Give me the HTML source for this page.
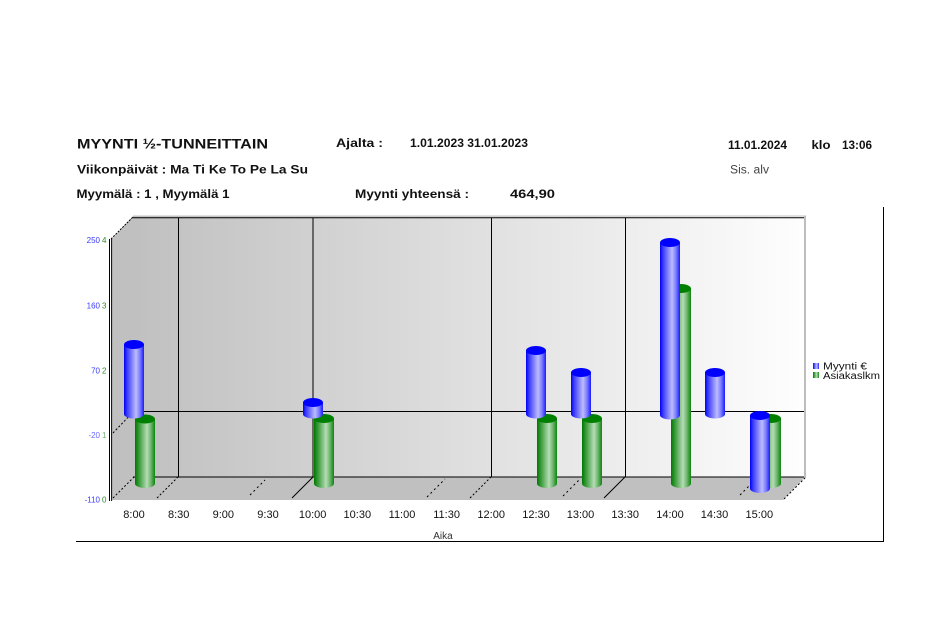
<!DOCTYPE html>
<html>
<head>
<meta charset="utf-8">
<style>
  html, body { margin:0; padding:0; background:#fff; }
  body { width:952px; height:632px; overflow:hidden; }
  svg { display:block; }
  .hb { font-family:"Liberation Sans", Arial, sans-serif; font-weight:bold; fill:#111; }
  .ax { font-family:"Liberation Sans", Arial, sans-serif; font-size:11px; fill:#111; }
</style>
</head>
<body>
<svg width="952" height="632" viewBox="0 0 952 632" xmlns="http://www.w3.org/2000/svg">
  <defs>
    <linearGradient id="wall" x1="0" y1="0" x2="1" y2="0">
      <stop offset="0" stop-color="#c0c0c0"/>
      <stop offset="1" stop-color="#fefefe"/>
    </linearGradient>
    <linearGradient id="gb" x1="0" y1="0" x2="1" y2="0">
      <stop offset="0" stop-color="#0000f0"/>
      <stop offset="0.15" stop-color="#3a3aff"/>
      <stop offset="0.6" stop-color="#bcbcff"/>
      <stop offset="0.8" stop-color="#7c7cff"/>
      <stop offset="1" stop-color="#1a1aff"/>
    </linearGradient>
    <linearGradient id="gg" x1="0" y1="0" x2="1" y2="0">
      <stop offset="0" stop-color="#007800"/>
      <stop offset="0.15" stop-color="#2a922a"/>
      <stop offset="0.6" stop-color="#b6dcb6"/>
      <stop offset="0.8" stop-color="#6cb46c"/>
      <stop offset="1" stop-color="#0c860c"/>
    </linearGradient>
  </defs>

  <rect x="0" y="0" width="952" height="632" fill="#fff"/>

  <!-- Header -->
  <text class="hb" x="77" y="148.3" font-size="14" textLength="191" lengthAdjust="spacingAndGlyphs">MYYNTI ½-TUNNEITTAIN</text>
  <text class="hb" x="336" y="147" font-size="11.5" textLength="47" lengthAdjust="spacingAndGlyphs">Ajalta :</text>
  <text class="hb" x="410" y="147" font-size="11.5" textLength="118" lengthAdjust="spacingAndGlyphs">1.01.2023  31.01.2023</text>
  <text class="hb" x="728" y="149" font-size="11.5" textLength="59" lengthAdjust="spacingAndGlyphs">11.01.2024</text>
  <text class="hb" x="811.5" y="149" font-size="11.5" textLength="19" lengthAdjust="spacingAndGlyphs">klo</text>
  <text class="hb" x="842" y="149" font-size="11.5" textLength="30" lengthAdjust="spacingAndGlyphs">13:06</text>
  <text class="hb" x="77" y="173.5" font-size="11.5" textLength="231" lengthAdjust="spacingAndGlyphs">Viikonpäivät : Ma Ti Ke To Pe La Su</text>
  <text x="730" y="173.5" font-family="Liberation Sans, Arial, sans-serif" font-size="11.5" fill="#444" textLength="39" lengthAdjust="spacingAndGlyphs">Sis. alv</text>
  <text class="hb" x="76.5" y="197.8" font-size="11.5" textLength="153" lengthAdjust="spacingAndGlyphs">Myymälä : 1 , Myymälä 1</text>
  <text class="hb" x="355" y="197.8" font-size="11.5" textLength="114" lengthAdjust="spacingAndGlyphs">Myynti yhteensä :</text>
  <text class="hb" x="510" y="197.8" font-size="11.5" textLength="45" lengthAdjust="spacingAndGlyphs">464,90</text>

  <!-- Frame -->
  <line x1="883.5" y1="207" x2="883.5" y2="542" stroke="#000" stroke-width="1"/>
  <line x1="76" y1="541.5" x2="884" y2="541.5" stroke="#000" stroke-width="1"/>

  <!-- Back wall -->
  <rect x="133" y="216" width="672" height="261" fill="url(#wall)"/>
  <!-- Side wall -->
  <polygon points="112,239 133,216 133,477 112,500" fill="#c0c0c0"/>
  <!-- Floor -->
  <polygon points="112,500 783,500 805,477 133,477" fill="#c0c0c0"/>

  <!-- wall borders -->
  <line x1="133" y1="216" x2="806" y2="216" stroke="#c0c0c0" stroke-width="1"/>
  <line x1="133" y1="217.8" x2="804" y2="217.8" stroke="#000" stroke-width="1"/>
  <line x1="805" y1="216" x2="805" y2="478" stroke="#bdbdbd" stroke-width="2"/>
  <line x1="111" y1="239" x2="133" y2="217" stroke="#000" stroke-width="1" stroke-dasharray="2,1.2"/>

  <!-- Gridlines back wall -->
  <line x1="133" y1="411.5" x2="804" y2="411.5" stroke="#000" stroke-width="1"/>
  <line x1="133" y1="477" x2="804" y2="477" stroke="#000" stroke-width="1"/>
  <line x1="178.5" y1="218" x2="178.5" y2="477" stroke="#000" stroke-width="1"/>
  <line x1="313" y1="218" x2="313" y2="477" stroke="#000" stroke-width="1"/>
  <line x1="491.5" y1="218" x2="491.5" y2="477" stroke="#000" stroke-width="1"/>
  <line x1="625.5" y1="218" x2="625.5" y2="477" stroke="#000" stroke-width="1"/>

  <!-- Side wall diagonal -->
  <line x1="113" y1="433" x2="133" y2="412" stroke="#000" stroke-width="1" stroke-dasharray="2,2"/>
  <!-- Floor diagonals -->
  <g stroke="#000" stroke-width="1">
    <line x1="113" y1="498" x2="134" y2="477" stroke-dasharray="2,2"/>
    <line x1="157" y1="498" x2="178" y2="477" stroke-dasharray="2,2"/>
    <line x1="250" y1="495" x2="265" y2="480" stroke-dasharray="2,3"/>
    <line x1="292" y1="498" x2="313" y2="477"/>
    <line x1="427" y1="497" x2="445" y2="479" stroke-dasharray="2,3"/>
    <line x1="470" y1="498" x2="491" y2="477" stroke-dasharray="2,2"/>
    <line x1="563" y1="496" x2="580" y2="479" stroke-dasharray="2,3"/>
    <line x1="604" y1="498" x2="625" y2="477"/>
    <line x1="740" y1="495" x2="755" y2="480" stroke-dasharray="2,3"/>
    <line x1="784" y1="499" x2="805" y2="478" stroke-dasharray="2,2"/>
  </g>

  <!-- Left axis double line -->
  <line x1="109.5" y1="239" x2="109.5" y2="501" stroke="#000" stroke-width="1"/>
  <line x1="111.6" y1="239" x2="111.6" y2="501" stroke="#000" stroke-width="1"/>

  <!-- Left axis labels -->
  <g font-family="Liberation Sans, Arial, sans-serif" font-size="8">
    <text x="100" y="243" text-anchor="end" fill="#3a3aff">250</text>
    <text x="102" y="243" fill="#2a8a2a">4</text>
    <text x="100" y="308.5" text-anchor="end" fill="#3a3aff">160</text>
    <text x="102" y="308.5" fill="#2a8a2a">3</text>
    <text x="100" y="373.5" text-anchor="end" fill="#3a3aff">70</text>
    <text x="102" y="373.5" fill="#2a8a2a">2</text>
    <text x="100" y="438" text-anchor="end" fill="#6a6aff">-20</text>
    <text x="102" y="438" fill="#7ab07a">1</text>
    <text x="100" y="502.5" text-anchor="end" fill="#3a3aff">-110</text>
    <text x="102" y="502.5" fill="#2a8a2a">0</text>
  </g>

  <!-- Green cylinders -->
  <g>
    <!-- 8:00 -->
    <path d="M135 419 L135 483.5 A10 4.5 0 0 0 155 483.5 L155 419 Z" fill="url(#gg)"/>
    <ellipse cx="145" cy="419" rx="10" ry="4.5" fill="#008000"/>
    <!-- 10:00 -->
    <path d="M314 418.5 L314 483.5 A10 4.5 0 0 0 334 483.5 L334 418.5 Z" fill="url(#gg)"/>
    <ellipse cx="324" cy="418.5" rx="10" ry="4.5" fill="#008000"/>
    <!-- 12:30 -->
    <path d="M537 418.5 L537 483.5 A10 4.5 0 0 0 557 483.5 L557 418.5 Z" fill="url(#gg)"/>
    <ellipse cx="547" cy="418.5" rx="10" ry="4.5" fill="#008000"/>
    <!-- 13:00 -->
    <path d="M582 418.5 L582 483.5 A10 4.5 0 0 0 602 483.5 L602 418.5 Z" fill="url(#gg)"/>
    <ellipse cx="592" cy="418.5" rx="10" ry="4.5" fill="#008000"/>
    <!-- 14:00 -->
    <path d="M671 288.5 L671 483.5 A10 4.5 0 0 0 691 483.5 L691 288.5 Z" fill="url(#gg)"/>
    <ellipse cx="681" cy="288.5" rx="10" ry="4.5" fill="#008000"/>
    <!-- 15:00 -->
    <path d="M761 418.5 L761 483.5 A10 4.5 0 0 0 781 483.5 L781 418.5 Z" fill="url(#gg)"/>
    <ellipse cx="771" cy="418.5" rx="10" ry="4.5" fill="#008000"/>
  </g>

  <!-- Blue cylinders -->
  <g>
    <!-- 8:00 -->
    <path d="M124 344.5 L124 414 A10 4.5 0 0 0 144 414 L144 344.5 Z" fill="url(#gb)"/>
    <ellipse cx="134" cy="344.5" rx="10" ry="4.5" fill="#0000ff"/>
    <!-- 10:00 -->
    <path d="M303 402.5 L303 414 A10 4.5 0 0 0 323 414 L323 402.5 Z" fill="url(#gb)"/>
    <ellipse cx="313" cy="402.5" rx="10" ry="4.5" fill="#0000ff"/>
    <!-- 12:30 -->
    <path d="M526 350.5 L526 414 A10 4.5 0 0 0 546 414 L546 350.5 Z" fill="url(#gb)"/>
    <ellipse cx="536" cy="350.5" rx="10" ry="4.5" fill="#0000ff"/>
    <!-- 13:00 -->
    <path d="M571 372.5 L571 414 A10 4.5 0 0 0 591 414 L591 372.5 Z" fill="url(#gb)"/>
    <ellipse cx="581" cy="372.5" rx="10" ry="4.5" fill="#0000ff"/>
    <!-- 14:00 -->
    <path d="M660 242.5 L660 415 A10 4.5 0 0 0 680 415 L680 242.5 Z" fill="url(#gb)"/>
    <ellipse cx="670" cy="242.5" rx="10" ry="4.5" fill="#0000ff"/>
    <!-- 14:30 -->
    <path d="M705 372.5 L705 414 A10 4.5 0 0 0 725 414 L725 372.5 Z" fill="url(#gb)"/>
    <ellipse cx="715" cy="372.5" rx="10" ry="4.5" fill="#0000ff"/>
    <!-- 15:00 (negative) -->
    <path d="M750 415.5 L750 488.5 A10 4.5 0 0 0 770 488.5 L770 415.5 Z" fill="url(#gb)"/>
    <ellipse cx="760" cy="415.5" rx="10" ry="4.5" fill="#0000ff"/>
  </g>

  <!-- X axis labels -->
  <g class="ax" text-anchor="middle">
    <text x="134" y="518">8:00</text>
    <text x="178.7" y="518">8:30</text>
    <text x="223.3" y="518">9:00</text>
    <text x="268" y="518">9:30</text>
    <text x="312.6" y="518">10:00</text>
    <text x="357.3" y="518">10:30</text>
    <text x="402" y="518">11:00</text>
    <text x="446.6" y="518">11:30</text>
    <text x="491.2" y="518">12:00</text>
    <text x="536" y="518">12:30</text>
    <text x="580.5" y="518">13:00</text>
    <text x="625.2" y="518">13:30</text>
    <text x="670" y="518">14:00</text>
    <text x="714.5" y="518">14:30</text>
    <text x="759.3" y="518">15:00</text>
  </g>
  <text x="443" y="539" text-anchor="middle" font-family="Liberation Sans, Arial, sans-serif" font-size="10" fill="#333">Aika</text>

  <!-- Legend -->
  <rect x="813" y="363" width="6" height="6" fill="url(#gb)"/>
  <rect x="813" y="372" width="6" height="6" fill="url(#gg)"/>
  <text x="823" y="369.5" font-family="Liberation Sans, Arial, sans-serif" font-size="10" fill="#111" textLength="44" lengthAdjust="spacingAndGlyphs">Myynti €</text>
  <text x="823" y="379" font-family="Liberation Sans, Arial, sans-serif" font-size="10" fill="#111" textLength="57" lengthAdjust="spacingAndGlyphs">Asiakaslkm</text>
</svg>
</body>
</html>
